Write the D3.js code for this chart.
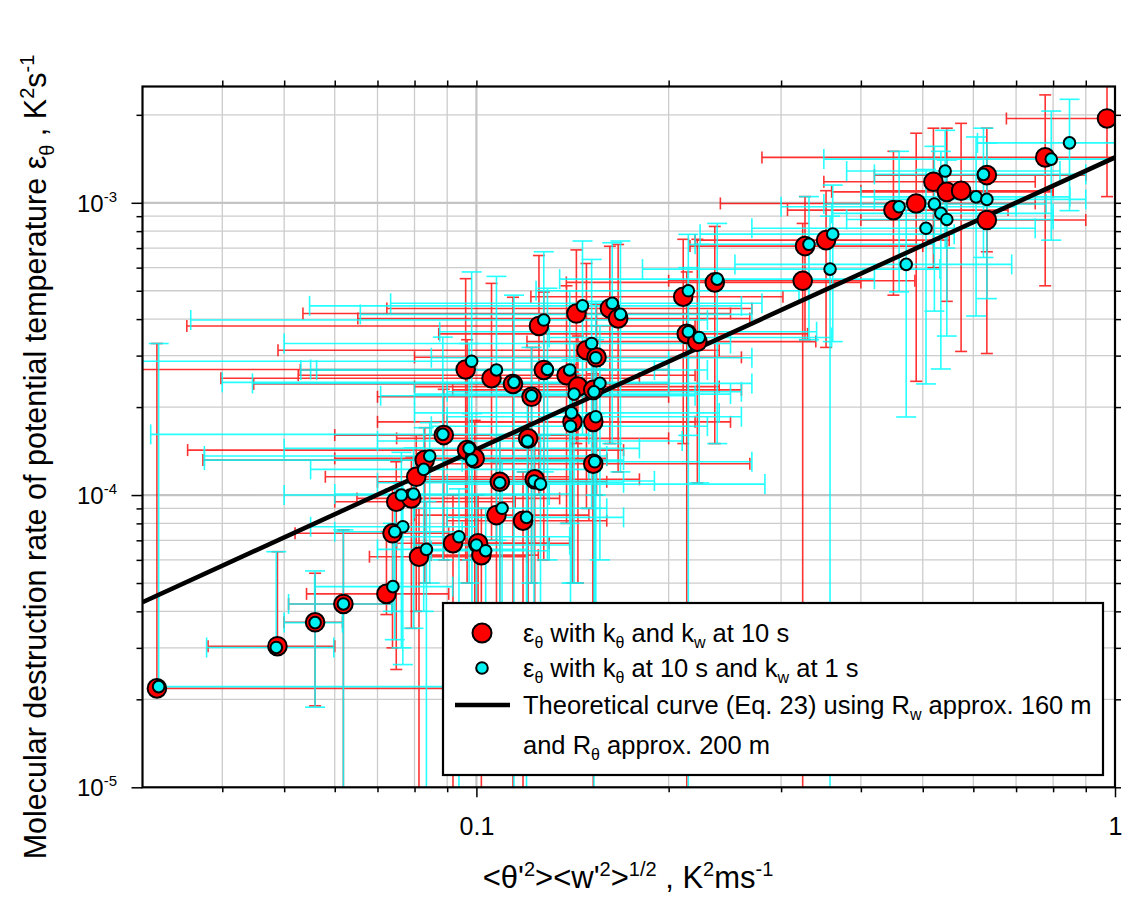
<!DOCTYPE html>
<html><head><meta charset="utf-8">
<script src="https://cdn.jsdelivr.net/npm/d3@7"></script>
<style>
body{margin:0;background:#fff}
text{font-family:"Liberation Sans",Arial,sans-serif;fill:#000}
</style>
</head><body>
<svg id="chart" width="1123" height="900"></svg>
<script>
// ---------- data ----------
// Red series: eps_theta with k_theta and k_w at 10 s
const redX   = [0.0316,0.0488,0.0559,0.0619,0.0723,0.0739,0.0749,0.0791,0.0805,0.0813,0.0830,0.0889,0.0919,0.0967,0.0994,0.1006,0.1018,0.0962,0.1056,0.1075,0.1088,0.1141,0.1183,0.1205,0.1220,0.1234,0.1253,0.1275,0.1384,0.1414,0.1434,0.1442,0.1487,0.1524,0.1524,0.1524,0.1542,0.1618,0.1667,0.2108,0.2135,0.2218,0.2362,0.3243,0.3270,0.3528,0.4498,0.4883,0.5196,0.5453,0.5741,0.6300,0.6300,0.7775,0.9716];
const redY   = [2.18e-5,3.04e-5,3.67e-5,4.24e-5,4.59e-5,7.40e-5,9.49e-5,9.74e-5,1.155e-4,6.15e-5,1.317e-4,1.604e-4,6.84e-5,1.425e-4,1.335e-4,6.84e-5,6.23e-5,2.69e-4,2.51e-4,8.54e-5,1.11e-4,2.40e-4,8.17e-5,1.563e-4,2.169e-4,1.132e-4,3.79e-4,2.68e-4,2.57e-4,1.78e-4,4.18e-4,2.35e-4,3.13e-4,2.29e-4,1.78e-4,1.28e-4,2.96e-4,4.35e-4,4.02e-4,4.77e-4,3.56e-4,3.35e-4,5.34e-4,5.41e-4,7.11e-4,7.45e-4,9.44e-4,9.95e-4,1.18e-3,1.09e-3,1.10e-3,1.244e-3,8.73e-4,1.43e-3,1.943e-3];
const redXlo = [null,0.038,0.050,0.0508,0.0542,0.052,0.060,0.065,0.058,0.068,0.0373,0.060,0.075,0.0353,0.060,0.080,0.085,0.025,0.0398,0.080,0.070,0.0448,0.090,0.075,0.070,0.080,0.0352,0.053,0.0526,0.070,0.0535,0.080,0.0489,0.0918,0.090,0.090,0.080,0.0724,0.0652,0.1217,0.0873,0.120,0.1383,0.200,0.216,0.220,0.307,0.241,0.350,0.360,0.400,0.420,0.400,0.280,0.676];
const redXhi = [0.11,0.060,0.0617,0.0737,0.0905,0.0905,0.115,0.135,0.14,0.12,0.16,0.14,0.13,0.17,0.16,0.14,0.125,0.20,0.18,0.15,0.16,0.20,0.16,0.20,0.20,0.18,0.22,0.20,0.22,0.22,0.25,0.24,0.24,0.26,0.25,0.268,0.26,0.27,0.268,0.302,0.33,0.34,0.40,0.486,0.50,0.55,0.68,0.75,0.75,0.80,0.80,0.90,0.90,1.1,1.1];
const redYlo = [null,null,1.9e-5,5e-6,3.9e-5,3.0e-5,2.53e-5,3.5e-5,4e-5,5e-6,5e-5,6e-5,5e-6,5e-5,3e-5,2e-5,5e-6,6e-5,7e-5,3e-5,4e-5,5e-6,5e-6,4e-5,5e-5,3e-5,1.0e-4,6e-5,8e-5,5e-5,1.5e-4,5e-5,9e-5,5e-6,4e-5,2e-5,1e-4,1.5e-4,1.2e-4,1.5e-4,5e-6,1.1e-4,1.5e-4,5e-6,3.4e-4,3.2e-4,4.83e-4,2.45e-4,6e-4,4.6e-4,3.1e-4,6.8e-4,3.05e-4,5.2e-4,1.05e-3];
const redYhi = [3.3e-4,6.4e-5,5.4e-5,7.6e-5,7.5e-5,1.05e-4,1.3e-4,1.35e-4,1.6e-4,9e-5,1.7e-4,2.3e-4,1.0e-4,3.4e-4,1.8e-4,1.0e-4,9e-5,5.5e-4,5.3e-4,1.3e-4,1.6e-4,4.75e-4,1.2e-4,2.2e-4,3.2e-4,1.6e-4,6.6e-4,4.95e-4,5.2e-4,2.8e-4,6.9e-4,3.5e-4,6.2e-4,3.4e-4,2.6e-4,1.9e-4,4.5e-4,7.1e-4,7.2e-4,7.5e-4,5.8e-4,7.5e-4,8.3e-4,8.5e-4,1.05e-3,1.1e-3,1.5e-3,1.73e-3,1.8e-3,1.8e-3,1.87e-3,1.8e-3,1.3e-3,2.34e-3,2.6e-3];

// Cyan series: eps_theta with k_theta at 10 s and k_w at 1 s
const cyanX   = [0.0318,0.0486,0.0559,0.0619,0.0740,0.0767,0.0745,0.0763,0.0797,0.0827,0.0845,0.0886,0.0835,0.0939,0.1000,0.1034,0.0974,0.0984,0.0983,0.1075,0.1145,0.1097,0.1198,0.1202,0.1220,0.1088,0.1231,0.1260,0.1275,0.1292,0.1400,0.1409,0.1404,0.1422,0.1466,0.1515,0.1538,0.1561,0.1528,0.1538,0.1532,0.1632,0.1681,0.2147,0.2383,0.2147,0.2233,0.3317,0.3614,0.3579,0.4591,0.4710,0.5059,0.5214,0.5337,0.5453,0.6060,0.6300,0.6223,0.7946,0.8487,0.5420];
const cyanY   = [2.21e-5,3.01e-5,3.66e-5,4.24e-5,4.86e-5,7.79e-5,7.49e-5,1.0e-4,1.008e-4,1.224e-4,1.36e-4,1.613e-4,6.52e-5,7.2e-5,6.75e-5,6.45e-5,1.444e-4,1.317e-4,2.87e-4,2.68e-4,2.43e-4,9.01e-5,8.39e-5,1.53e-4,2.186e-4,1.102e-4,1.117e-4,1.09e-4,3.97e-4,2.69e-4,2.68e-4,1.91e-4,1.72e-4,2.215e-4,4.44e-4,3.30e-4,2.95e-4,2.41e-4,2.256e-4,1.853e-4,1.30e-4,4.53e-4,4.15e-4,5.0e-4,5.48e-4,3.62e-4,3.46e-4,7.21e-4,7.81e-4,5.93e-4,9.69e-4,6.155e-4,8.18e-4,9.90e-4,9.20e-4,8.77e-4,1.048e-3,1.027e-3,1.251e-3,1.411e-3,1.604e-3,1.284e-3];
const cyanXlo = [null,0.0378,0.050,0.0508,0.0558,0.055,0.060,0.050,0.060,0.055,0.0375,0.0309,0.070,0.075,0.080,0.085,0.050,0.0375,0.025,0.0562,0.040,0.080,0.090,0.070,0.0708,0.070,0.080,0.090,0.0357,0.055,0.0531,0.080,0.085,0.080,0.0548,0.050,0.085,0.0446,0.090,0.090,0.095,0.0734,0.0658,0.124,0.135,0.0876,0.130,0.220,0.224,0.182,0.300,0.254,0.270,0.350,0.360,0.380,0.400,0.420,0.420,0.350,0.609,0.380];
const cyanXhi = [0.12,0.0598,0.0617,0.0737,0.0918,0.10,0.095,0.13,0.14,0.15,0.16,0.15,0.12,0.14,0.14,0.13,0.18,0.17,0.20,0.19,0.20,0.16,0.17,0.21,0.22,0.17,0.19,0.283,0.23,0.20,0.23,0.24,0.23,0.25,0.26,0.25,0.27,0.27,0.26,0.26,0.27,0.28,0.27,0.32,0.42,0.341,0.36,0.52,0.56,0.532,0.70,0.689,0.75,0.78,0.80,0.80,0.85,0.90,0.90,1.1,1.1,0.82];
const cyanYlo = [null,null,1.88e-5,5e-6,4.0e-5,2.63e-5,3.2e-5,3e-5,3.5e-5,4e-5,5e-5,6e-5,5e-6,5e-6,2e-5,1.5e-5,5e-5,3e-5,6e-5,7e-5,5e-6,3e-5,5e-6,4e-5,5e-5,3.5e-5,3e-5,2.5e-5,1.2e-4,6e-5,8e-5,5e-5,4e-5,5e-5,1.6e-4,9e-5,1e-4,6e-5,5e-6,4e-5,2e-5,1.5e-4,1.2e-4,1.6e-4,1.5e-4,5e-6,1.1e-4,3.4e-4,3.35e-4,5e-6,4.96e-4,1.85e-4,2.4e-4,4.26e-4,2.7e-4,3.5e-4,4.1e-4,4.7e-4,6.5e-4,7.45e-4,9.4e-4,7e-4];
const cyanYhi = [3.3e-4,6.4e-5,5.5e-5,7.6e-5,8e-5,1.1e-4,1.05e-4,1.4e-4,1.45e-4,1.7e-4,1.77e-4,3.47e-4,9.5e-5,1.05e-4,1.0e-4,9e-5,3.3e-4,1.9e-4,5.8e-4,5.6e-4,4.83e-4,1.3e-4,1.2e-4,2.2e-4,3.2e-4,1.6e-4,1.6e-4,1.6e-4,6.8e-4,5.1e-4,5.0e-4,2.9e-4,2.6e-4,3.3e-4,7.4e-4,6.4e-4,4.6e-4,3.8e-4,3.4e-4,2.7e-4,1.9e-4,7.3e-4,7.4e-4,7.8e-4,8.5e-4,6e-4,7.2e-4,1.05e-3,1.15e-3,9e-4,1.5e-3,9.5e-4,1.3e-3,1.56e-3,1.5e-3,1.4e-3,1.68e-3,1.6e-3,1.8e-3,2.06e-3,2.26e-3,1.77e-3];

// Theoretical curve (Eq. 23) end points
const lineX = [0.03, 1];
const lineY = [4.3e-5, 1.43e-3];

// Axis ticks
const xMinorTicks = [0.04,0.05,0.06,0.07,0.08,0.09,0.2,0.3,0.4,0.5,0.6,0.7,0.8,0.9];
const xMajorTicks = [0.1, 1];
const xTickLabels = ["0.1", "1"];
const yMinorTicks = [2e-5,3e-5,4e-5,5e-5,6e-5,7e-5,8e-5,9e-5,2e-4,3e-4,4e-4,5e-4,6e-4,7e-4,8e-4,9e-4,2e-3];
const yMajorTicks = [1e-5, 1e-4, 1e-3];
const yTickExp = ["-5", "-4", "-3"];

// ---------- drawing ----------
const svg = d3.select("#chart");
const L = 142.5, R = 1115, T = 86.5, B = 787.3;
const x = d3.scaleLog().domain([0.03, 1]).range([L, R]);
const y = d3.scaleLog().domain([1e-5, 2.5e-3]).range([B, T]);

svg.append("defs").append("clipPath").attr("id", "plotclip")
  .append("rect").attr("x", L).attr("y", T).attr("width", R - L).attr("height", B - T);

// grid
const grid = svg.append("g");
xMinorTicks.forEach(v => grid.append("line").attr("x1", x(v)).attr("x2", x(v)).attr("y1", T).attr("y2", B)
  .attr("stroke", "#cccccc").attr("stroke-width", 1.3));
yMinorTicks.forEach(v => grid.append("line").attr("x1", L).attr("x2", R).attr("y1", y(v)).attr("y2", y(v))
  .attr("stroke", "#cccccc").attr("stroke-width", 1.3));
[0.1].forEach(v => grid.append("line").attr("x1", x(v)).attr("x2", x(v)).attr("y1", T).attr("y2", B)
  .attr("stroke", "#c4c4c4").attr("stroke-width", 2.2));
[1e-4, 1e-3].forEach(v => grid.append("line").attr("x1", L).attr("x2", R).attr("y1", y(v)).attr("y2", y(v))
  .attr("stroke", "#c4c4c4").attr("stroke-width", 2.2));

// error bars
const plot = svg.append("g").attr("clip-path", "url(#plotclip)");
function errorBars(X, Y, XL, XH, YL, YH, color, cap, op) {
  const g = plot.append("g").attr("stroke", color).attr("stroke-width", 1.6).attr("opacity", op);
  X.forEach((xv, i) => {
    const cx = x(xv), cy = y(Y[i]);
    const x0 = XL[i] == null ? cx : x(XL[i]);
    const x1 = XH[i] == null ? cx : x(XH[i]);
    const y0 = YL[i] == null ? cy : y(YL[i]);
    const y1 = YH[i] == null ? cy : y(YH[i]);
    g.append("line").attr("x1", x0).attr("x2", x1).attr("y1", cy).attr("y2", cy);
    g.append("line").attr("x1", cx).attr("x2", cx).attr("y1", y0).attr("y2", y1);
    if (XL[i] != null) g.append("line").attr("x1", x0).attr("x2", x0).attr("y1", cy - cap / 2).attr("y2", cy + cap / 2);
    if (XH[i] != null) g.append("line").attr("x1", x1).attr("x2", x1).attr("y1", cy - cap / 2).attr("y2", cy + cap / 2);
    if (YL[i] != null) g.append("line").attr("x1", cx - cap / 2).attr("x2", cx + cap / 2).attr("y1", y0).attr("y2", y0);
    if (YH[i] != null) g.append("line").attr("x1", cx - cap / 2).attr("x2", cx + cap / 2).attr("y1", y1).attr("y2", y1);
  });
}
errorBars(redX, redY, redXlo, redXhi, redYlo, redYhi, "#ff0000", 12, 0.8);
errorBars(cyanX, cyanY, cyanXlo, cyanXhi, cyanYlo, cyanYhi, "#00ffff", 20, 0.85);

// theoretical line
plot.append("path")
  .datum(lineX.map((v, i) => [v, lineY[i]]))
  .attr("d", d3.line().x(d => x(d[0])).y(d => y(d[1])))
  .attr("fill", "none").attr("stroke", "#000").attr("stroke-width", 4.5);

// points
plot.append("g").selectAll("circle").data(redX).join("circle")
  .attr("cx", d => x(d)).attr("cy", (d, i) => y(redY[i])).attr("r", 9.3)
  .attr("fill", "#ff0000").attr("stroke", "#000").attr("stroke-width", 2);
plot.append("g").selectAll("circle").data(cyanX).join("circle")
  .attr("cx", d => x(d)).attr("cy", (d, i) => y(cyanY[i])).attr("r", 5.8)
  .attr("fill", "#00f2f2").attr("stroke", "#000").attr("stroke-width", 2);

// axes (ticks through d3 axes)
function styleAxis(g) {
  g.select(".domain").remove();
  g.selectAll(".tick line").attr("stroke", "#000").attr("stroke-width", 1.5);
}
svg.append("g").attr("transform", `translate(0,${B})`)
  .call(d3.axisBottom(x).tickValues(xMinorTicks).tickSize(5).tickFormat("")).call(styleAxis);
svg.append("g").attr("transform", `translate(0,${B})`)
  .call(d3.axisBottom(x).tickValues(xMajorTicks).tickSize(10).tickPadding(20).tickFormat((d, i) => xTickLabels[i]))
  .call(styleAxis)
  .selectAll("text").attr("font-size", 25).attr("font-family", "Liberation Sans, Arial, sans-serif");
svg.append("g").attr("transform", `translate(0,${T})`)
  .call(d3.axisTop(x).tickValues(xMinorTicks.concat([0.1])).tickSize(6).tickFormat("")).call(styleAxis);
svg.append("g").attr("transform", `translate(${L},0)`)
  .call(d3.axisLeft(y).tickValues(yMinorTicks).tickSize(6).tickFormat("")).call(styleAxis);
svg.append("g").attr("transform", `translate(${L},0)`)
  .call(d3.axisLeft(y).tickValues(yMajorTicks).tickSize(11).tickFormat("")).call(styleAxis);
svg.append("g").attr("transform", `translate(${R},0)`)
  .call(d3.axisRight(y).tickValues(yMinorTicks.concat(yMajorTicks)).tickSize(6).tickFormat("")).call(styleAxis);

// y tick labels with superscripts
yMajorTicks.forEach((v, i) => {
  const t = svg.append("text").attr("x", 117).attr("y", y(v) + 9).attr("text-anchor", "end").attr("font-size", 24);
  t.append("tspan").text("10");
  t.append("tspan").attr("font-size", 15).attr("dy", -10).text(yTickExp[i]);
});

// frame
svg.append("rect").attr("x", L).attr("y", T).attr("width", R - L).attr("height", B - T)
  .attr("fill", "none").attr("stroke", "#000").attr("stroke-width", 2.2);

// axis titles
const xt = svg.append("text").attr("x", 628).attr("y", 888).attr("text-anchor", "middle").attr("font-size", 31);
xt.append("tspan").text("<θ'");
xt.append("tspan").attr("font-size", 20).attr("dy", -12).text("2");
xt.append("tspan").attr("dy", 12).text("><w'");
xt.append("tspan").attr("font-size", 20).attr("dy", -12).text("2");
xt.append("tspan").attr("dy", 12).text(">");
xt.append("tspan").attr("font-size", 20).attr("dy", -12).text("1/2");
xt.append("tspan").attr("dy", 12).text(" , K");
xt.append("tspan").attr("font-size", 20).attr("dy", -12).text("2");
xt.append("tspan").attr("dy", 12).text("ms");
xt.append("tspan").attr("font-size", 20).attr("dy", -12).text("-1");

const yt = svg.append("text").attr("transform", "translate(46,457) rotate(-90)")
  .attr("text-anchor", "middle").attr("font-size", 30.5);
yt.append("tspan").text("Molecular destruction rate of potential temperature ε");
yt.append("tspan").attr("font-size", 20).attr("dy", 8).text("θ");
yt.append("tspan").attr("dy", -8).text(" , K");
yt.append("tspan").attr("font-size", 20).attr("dy", -12).text("2");
yt.append("tspan").attr("dy", 12).text("s");
yt.append("tspan").attr("font-size", 20).attr("dy", -12).text("-1");

// legend
const lg = svg.append("g");
lg.append("rect").attr("x", 443).attr("y", 603).attr("width", 660).attr("height", 172)
  .attr("fill", "#fff").attr("stroke", "#000").attr("stroke-width", 2.2);
lg.append("circle").attr("cx", 482).attr("cy", 633).attr("r", 9.5).attr("fill", "#ff0000").attr("stroke", "#000").attr("stroke-width", 2);
lg.append("circle").attr("cx", 482).attr("cy", 668).attr("r", 5.8).attr("fill", "#00f2f2").attr("stroke", "#000").attr("stroke-width", 2);
lg.append("line").attr("x1", 455).attr("x2", 510).attr("y1", 705).attr("y2", 705).attr("stroke", "#000").attr("stroke-width", 4.5);
function legendText(yb, parts) {
  const t = lg.append("text").attr("x", 523).attr("y", yb).attr("font-size", 25.5);
  let sub = false;
  parts.forEach(p => {
    if (p[1]) { t.append("tspan").attr("font-size", 16).attr("dy", 6).text(p[0]); sub = true; }
    else { t.append("tspan").attr("dy", sub ? -6 : 0).text(p[0]); sub = false; }
  });
}
legendText(642, [["ε"], ["θ", 1], [" with k"], ["θ", 1], [" and k"], ["w", 1], [" at 10 s"]]);
legendText(677, [["ε"], ["θ", 1], [" with k"], ["θ", 1], [" at 10 s and k"], ["w", 1], [" at 1 s"]]);
legendText(714, [["Theoretical curve (Eq. 23) using R"], ["w", 1], [" approx. 160 m"]]);
legendText(754, [["and R"], ["θ", 1], [" approx. 200 m"]]);
</script>
</body></html>
